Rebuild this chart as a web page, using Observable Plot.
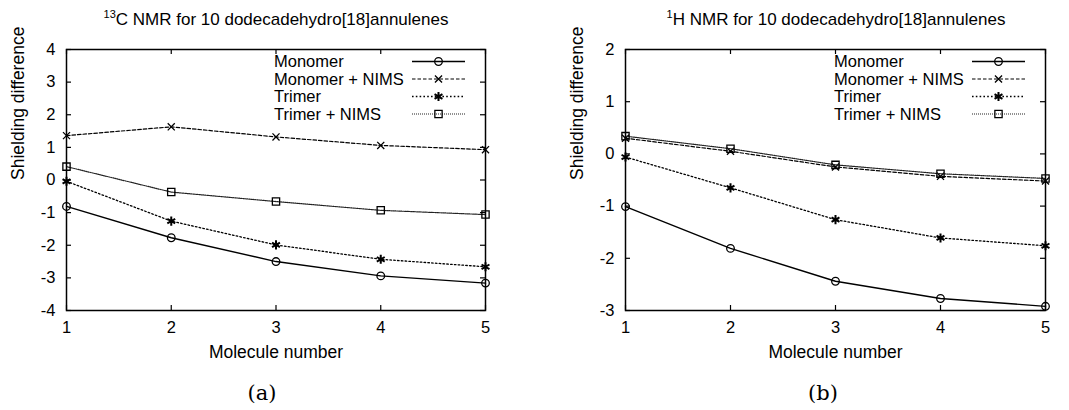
<!DOCTYPE html>
<html>
<head>
<meta charset="utf-8">
<script src="https://cdn.jsdelivr.net/npm/d3@7"></script>
<script src="https://cdn.jsdelivr.net/npm/@observablehq/plot@0.6"></script>
<style>
  html, body { margin: 0; padding: 0; background: white; }
  #root { position: relative; width: 1069px; height: 410px; overflow: hidden; font-family: "Liberation Sans", Arial, sans-serif; }
  .title { position: absolute; top: 8px; width: 420px; text-align: center; font-size: 17px; line-height: 24px; color: #000; white-space: nowrap; }
  .title sup { font-size: 11px; line-height: 0; vertical-align: 0; position: relative; top: -7px; }
  .caption { position: absolute; top: 378px; width: 80px; text-align: center; font-family: "DejaVu Serif", "Liberation Serif", serif; font-size: 21px; line-height: 30px; color: #000; }
  .panel { position: absolute; top: 0; }
</style>
</head>
<body>
<div id="root"></div>
<script>
// ---- data ----
const molecules = [1, 2, 3, 4, 5];
const seriesNames = ["Monomer", "Monomer + NIMS", "Trimer", "Trimer + NIMS"];

// (a) 13C NMR shielding differences
const c13Monomer     = [-0.81, -1.77, -2.50, -2.94, -3.16];
const c13MonomerNIMS = [ 1.36,  1.63,  1.32,  1.06,  0.93];
const c13Trimer      = [-0.04, -1.26, -1.99, -2.43, -2.66];
const c13TrimerNIMS  = [ 0.41, -0.37, -0.66, -0.93, -1.06];

// (b) 1H NMR shielding differences
const h1Monomer      = [-1.01, -1.81, -2.44, -2.77, -2.92];
const h1MonomerNIMS  = [ 0.30,  0.05, -0.25, -0.43, -0.52];
const h1Trimer       = [-0.06, -0.65, -1.26, -1.61, -1.76];
const h1TrimerNIMS   = [ 0.34,  0.10, -0.21, -0.38, -0.47];

const xTicks  = [1, 2, 3, 4, 5];
const yTicksA = [-4, -3, -2, -1, 0, 1, 2, 3, 4];
const yTicksB = [-3, -2, -1, 0, 1, 2];

const titleA = "C NMR for 10 dodecadehydro[18]annulenes";
const titleB = "H NMR for 10 dodecadehydro[18]annulenes";
const xLabel = "Molecule number";
const yLabel = "Shielding difference";

// ---- styles per series ----
const styles = [
  {dash: null,      symbol: "circle",   stroke: "#000", width: 1.4, r: 3.8, sw: 1.3},
  {dash: "3.5,2",   symbol: "times",    stroke: "#000", width: 1.2, r: 3.3, sw: 1.3},
  {dash: "1.6,2.2", symbol: "asterisk", stroke: "#000", width: 1.3, r: 4.3, sw: 2.0},
  {dash: "1,1",     symbol: "square",   stroke: "#222", width: 1.2, r: 4.1, sw: 1.3}
];
const d3Symbols = {circle: d3.symbolCircle, times: d3.symbolTimes, asterisk: d3.symbolAsterisk, square: d3.symbolSquare};

function toRows(arrays) {
  const rows = [];
  arrays.forEach((vals, si) => vals.forEach((v, i) => rows.push({series: seriesNames[si], x: molecules[i], y: v})));
  return rows;
}

function makePanel({arrays, yDomain, yTicks, width, marginLeft, marginRight}) {
  const height = 370, marginTop = 49, marginBottom = 60;
  const plotW = width - marginLeft - marginRight;
  const plotH = height - marginTop - marginBottom;
  const rows = toRows(arrays);
  const marks = [];
  // inward mirrored ticks
  marks.push(Plot.tickX(xTicks, {x: d => d, insetTop: plotH - 5, stroke: "#000", strokeWidth: 1.2}));
  marks.push(Plot.tickX(xTicks, {x: d => d, insetBottom: plotH - 5, stroke: "#000", strokeWidth: 1.2}));
  marks.push(Plot.tickY(yTicks, {y: d => d, insetRight: plotW - 5, stroke: "#000", strokeWidth: 1.2}));
  marks.push(Plot.tickY(yTicks, {y: d => d, insetLeft: plotW - 5, stroke: "#000", strokeWidth: 1.2}));
  // series lines & markers
  seriesNames.forEach((name, si) => {
    const st = styles[si];
    const data = rows.filter(r => r.series === name);
    marks.push(Plot.line(data, {x: "x", y: "y", stroke: st.stroke, strokeWidth: st.width, strokeDasharray: st.dash ?? undefined}));
    marks.push(Plot.dot(data, {x: "x", y: "y", symbol: () => st.symbol, stroke: "#000", fill: "none", strokeWidth: st.sw, r: st.r}));
  });
  // frame
  marks.push(Plot.frame({stroke: "#000", strokeWidth: 1.5}));
  // axes (labels only)
  marks.push(Plot.axisX({ticks: xTicks, anchor: "bottom", tickSize: 0, tickPadding: 11, tickFormat: d => String(d), label: null, fontSize: 16.5}));
  marks.push(Plot.axisY({ticks: yTicks, anchor: "left", tickSize: 0, tickPadding: 11, tickFormat: d => String(d), label: null, fontSize: 16.5}));
  marks.push(Plot.text([xLabel], {text: d => d, frameAnchor: "bottom", dy: 47, fontSize: 17.5}));
  marks.push(Plot.text([yLabel], {text: d => d, frameAnchor: "left", dx: -48, rotate: -90, fontSize: 17.5}));
  // legend inside frame, top-right
  marks.push(() => {
    const g = d3.create("svg:g");
    const right = width - marginRight;
    seriesNames.forEach((name, si) => {
      const st = styles[si];
      const cy = marginTop + 12.5 + si * 17.5;
      g.append("text").attr("x", right - 211).attr("y", cy).attr("dy", "0.35em")
        .attr("text-anchor", "start")
        .attr("font-size", 16.5).attr("fill", "#000").text(name);
      g.append("line").attr("x1", right - 73).attr("x2", right - 20).attr("y1", cy).attr("y2", cy)
        .attr("stroke", st.stroke).attr("stroke-width", st.width).attr("stroke-dasharray", st.dash);
      g.append("path").attr("transform", `translate(${right - 46.5},${cy})`)
        .attr("d", d3.symbol(d3Symbols[st.symbol], Math.PI * st.r * st.r)())
        .attr("fill", "none").attr("stroke", "#000").attr("stroke-width", st.sw);
    });
    return g.node();
  });
  return Plot.plot({
    width, height, marginTop, marginBottom, marginLeft, marginRight,
    x: {domain: [1, 5]},
    y: {domain: yDomain},
    style: {fontFamily: "'Liberation Sans', Arial, sans-serif", fontSize: "16px", background: "white", color: "#000"},
    marks
  });
}

const root = document.getElementById("root");

const panelA = makePanel({arrays: [c13Monomer, c13MonomerNIMS, c13Trimer, c13TrimerNIMS], yDomain: [-4, 4], yTicks: yTicksA, width: 535, marginLeft: 66, marginRight: 50});
panelA.classList.add("panel"); panelA.style.left = "0px";
root.appendChild(panelA);

const panelB = makePanel({arrays: [h1Monomer, h1MonomerNIMS, h1Trimer, h1TrimerNIMS], yDomain: [-3, 2], yTicks: yTicksB, width: 534, marginLeft: 90, marginRight: 24});
panelB.classList.add("panel"); panelB.style.left = "535px";
root.appendChild(panelB);

function addTitle(sup, text, cx) {
  const d = document.createElement("div");
  d.className = "title";
  d.style.left = (cx - 210) + "px";
  const s = document.createElement("sup"); s.textContent = sup;
  d.appendChild(s); d.appendChild(document.createTextNode(text));
  root.appendChild(d);
}
addTitle("13", titleA, 276);
addTitle("1", titleB, 836);

function addCaption(text, cx) {
  const d = document.createElement("div");
  d.className = "caption";
  d.style.left = (cx - 40) + "px";
  d.textContent = text;
  root.appendChild(d);
}
addCaption("(a)", 262);
addCaption("(b)", 823);
</script>
</body>
</html>
